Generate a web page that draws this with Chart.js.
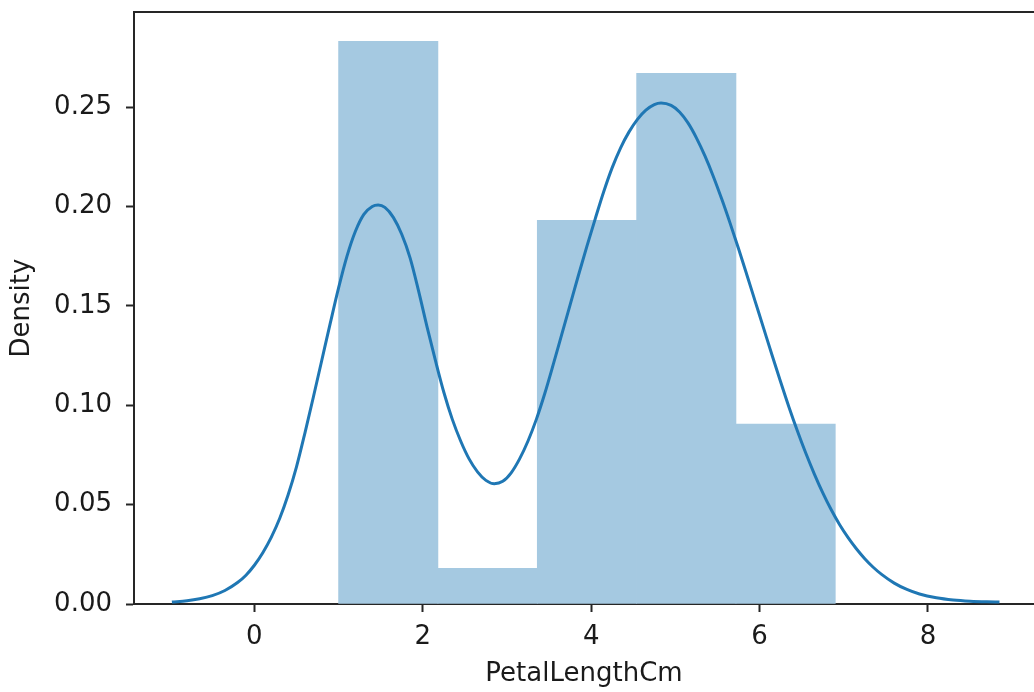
<!DOCTYPE html>
<html>
<head>
<meta charset="utf-8">
<script src="https://cdn.jsdelivr.net/npm/chart.js@4.4.1/dist/chart.umd.min.js"></script>
<style>
  html, body { margin: 0; padding: 0; background: #ffffff; overflow: hidden; }
  #c { display: block; }
</style>
</head>
<body>
<canvas id="c" width="1034" height="692"></canvas>
<script>
// ---- data ----
const binEdges = [1.0, 2.18, 3.36, 4.54, 5.72, 6.9];
const binDensity = [0.283, 0.018, 0.193, 0.267, 0.0905];

const kdeX = [-0.98, -0.80, -0.65, -0.50, -0.35, -0.20, -0.10, 0.00, 0.10, 0.20, 0.30, 0.40, 0.50, 0.60, 0.70, 0.80, 0.90, 1.00,
              1.10, 1.20, 1.30, 1.40, 1.47, 1.55, 1.65, 1.75, 1.85, 1.95, 2.05, 2.15, 2.25, 2.35, 2.45, 2.55, 2.65, 2.75, 2.85,
              2.95, 3.05, 3.15, 3.25, 3.35, 3.45, 3.55, 3.65, 3.75, 3.85, 3.95, 4.05, 4.15, 4.25, 4.35, 4.45, 4.55, 4.65, 4.75,
              4.83, 4.95, 5.05, 5.15, 5.25, 5.35, 5.45, 5.55, 5.65, 5.75, 5.85, 5.95, 6.05, 6.15, 6.25, 6.35, 6.45, 6.55, 6.65,
              6.75, 6.85, 6.95, 7.05, 7.15, 7.25, 7.35, 7.45, 7.60, 7.75, 7.90, 8.10, 8.30, 8.50, 8.70, 8.85];
const kdeY = [0.0010, 0.0016, 0.0026, 0.0042, 0.0068, 0.0108, 0.0145, 0.0195, 0.0258, 0.0335, 0.0430, 0.0548, 0.0690, 0.0860, 0.1040, 0.1225, 0.1410, 0.1590,
              0.1750, 0.1875, 0.1960, 0.2000, 0.2007, 0.1995, 0.1945, 0.1860, 0.1740, 0.1575, 0.1395, 0.1225, 0.1065, 0.0930, 0.0820, 0.0730, 0.0665, 0.0622, 0.0605,
              0.0617, 0.0660, 0.0730, 0.0820, 0.0930, 0.1060, 0.1205, 0.1355, 0.1505, 0.1655, 0.1800, 0.1940, 0.2075, 0.2195, 0.2295, 0.2375, 0.2438, 0.2484, 0.2512,
              0.2520, 0.2508, 0.2475, 0.2420, 0.2345, 0.2255, 0.2152, 0.2038, 0.1916, 0.1788, 0.1655, 0.1520, 0.1385, 0.1250, 0.1118, 0.0990, 0.0870, 0.0758, 0.0655,
              0.0560, 0.0475, 0.0400, 0.0335, 0.0278, 0.0228, 0.0185, 0.0149, 0.0105, 0.0073, 0.0050, 0.0031, 0.0020, 0.0014, 0.0011, 0.0010];

const xTicks = [0, 2, 4, 6, 8];
const yTicks = [0.00, 0.05, 0.10, 0.15, 0.20, 0.25];
const xLabel = 'PetalLengthCm';
const yLabel = 'Density';

// ---- build library structures ----
const barData = binDensity.map((d, i) => ({ x: (binEdges[i] + binEdges[i + 1]) / 2, y: d }));
const kdeData = kdeX.map((x, i) => ({ x: x, y: kdeY[i] }));

const FONT = { family: 'DejaVu Sans', size: 26 };
const INK = '#1a1a1a';
const SPINE = '#262626';

const noPad = (s) => { s.paddingTop = 0; s.paddingBottom = 0; s.paddingLeft = 0; s.paddingRight = 0; };

new Chart(document.getElementById('c'), {
  data: {
    datasets: [
      {
        type: 'line',
        data: kdeData,
        borderColor: '#1f77b4',
        borderWidth: 3,
        pointRadius: 0,
        fill: false,
        cubicInterpolationMode: 'monotone',
        order: 1
      },
      {
        type: 'bar',
        data: barData,
        backgroundColor: 'rgb(165,201,225)',
        borderWidth: 0,
        barPercentage: 1.0,
        categoryPercentage: 1.0,
        order: 2
      }
    ]
  },
  options: {
    responsive: false,
    devicePixelRatio: 1,
    animation: false,
    layout: { padding: 0 },
    plugins: { legend: { display: false }, tooltip: { enabled: false } },
    scales: {
      x: {
        type: 'linear',
        position: 'bottom',
        offset: false,
        min: -1.43,
        max: 9.26,
        afterBuildTicks: (s) => { s.ticks = xTicks.map(v => ({ value: v })); },
        afterFit: (s) => { s.height = 88; noPad(s); },
        ticks: { font: FONT, color: INK, padding: 10, maxRotation: 0, callback: (v) => String(v) },
        grid: { display: true, offset: false, drawOnChartArea: false, drawTicks: true, tickLength: 8, tickColor: SPINE, tickWidth: 2 },
        border: { display: true, color: SPINE, width: 2 },
        title: { display: true, text: xLabel, font: FONT, color: INK, padding: { top: 0, bottom: 2 } }
      },
      x2: {
        type: 'linear',
        position: 'top',
        offset: false,
        min: -1.43,
        max: 9.26,
        afterFit: (s) => { s.height = 12; noPad(s); },
        ticks: { display: false },
        grid: { display: false },
        border: { display: true, color: SPINE, width: 2 }
      },
      y: {
        type: 'linear',
        position: 'left',
        min: 0,
        max: 0.2978,
        afterBuildTicks: (s) => { s.ticks = yTicks.map(v => ({ value: v })); },
        afterFit: (s) => { s.width = 134; noPad(s); },
        ticks: { font: FONT, color: INK, padding: 14, callback: (v) => Number(v).toFixed(2) },
        grid: { display: true, drawOnChartArea: false, drawTicks: true, tickLength: 8, tickColor: SPINE, tickWidth: 2 },
        border: { display: true, color: SPINE, width: 2 },
        title: { display: true, text: yLabel, font: FONT, color: INK, padding: { top: 7, bottom: 0 } }
      }
    }
  }
});
</script>
</body>
</html>
